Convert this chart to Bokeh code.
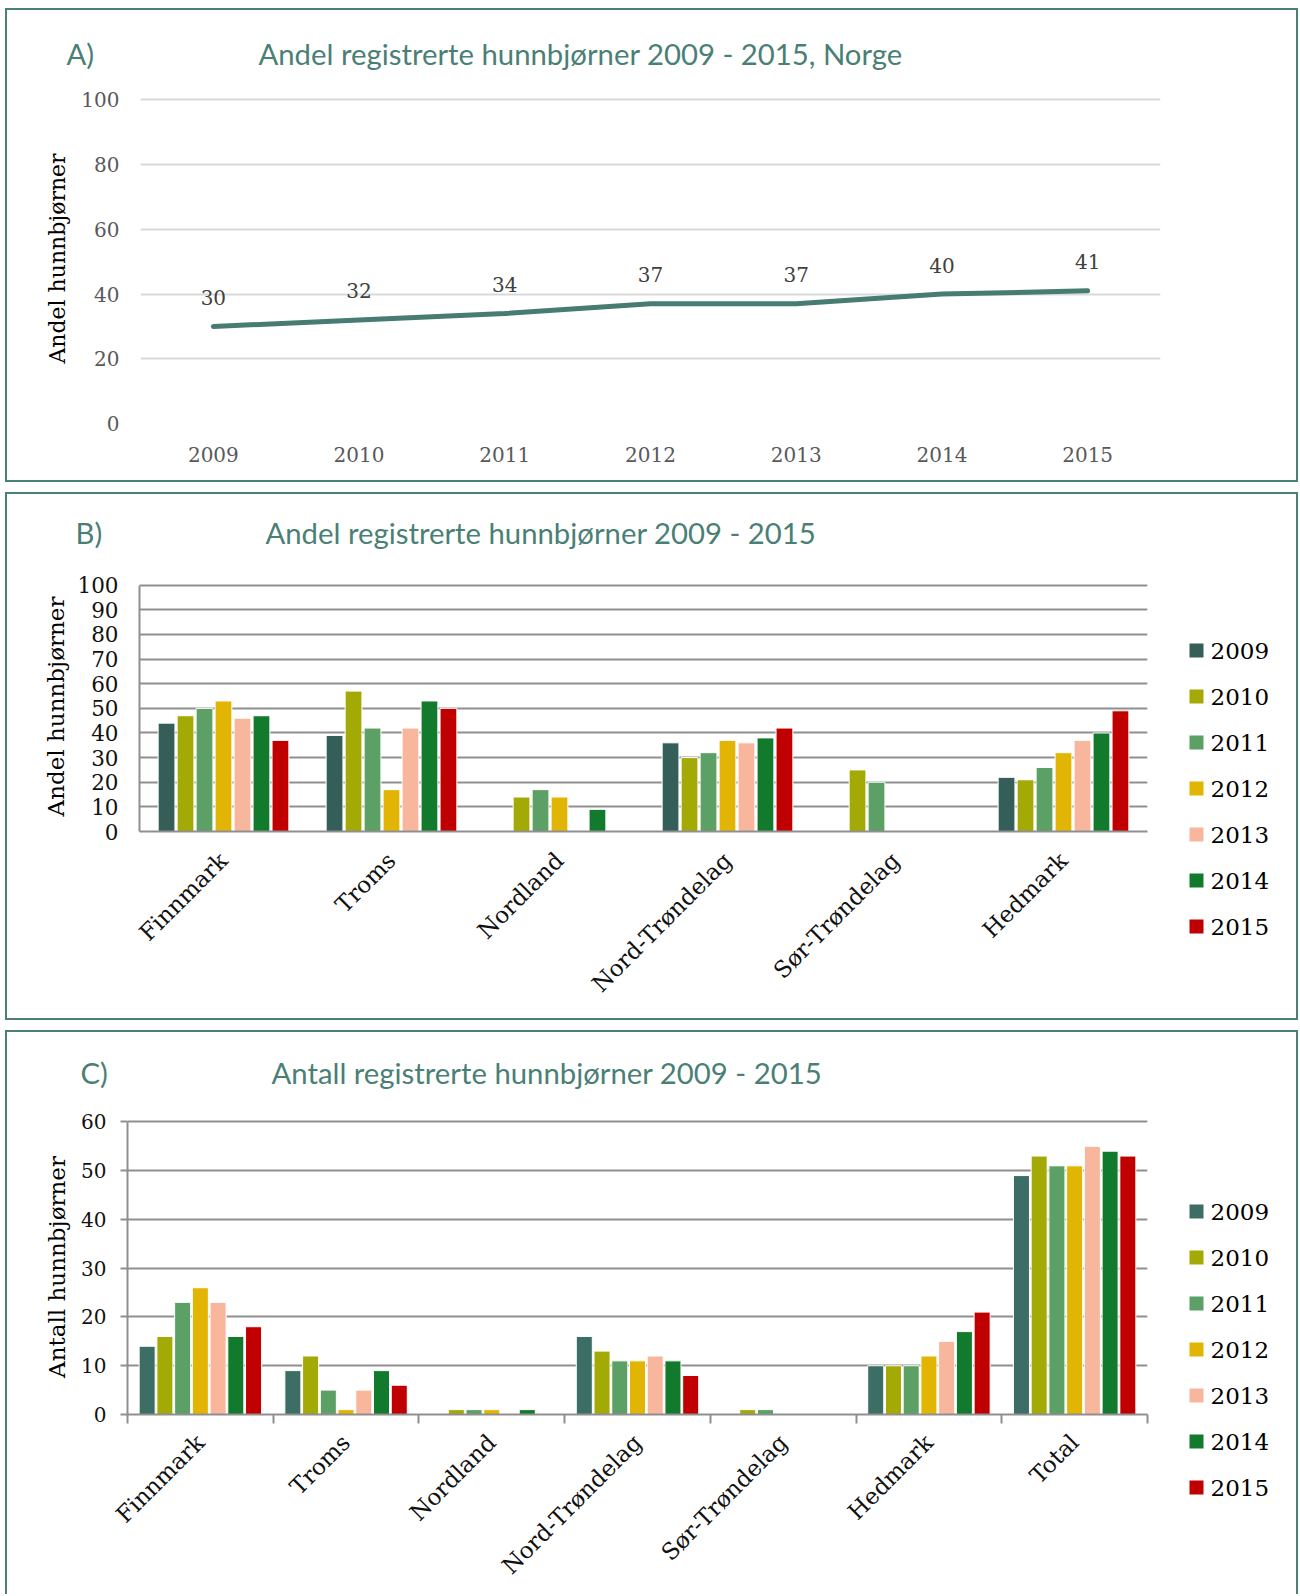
import math
import numpy as np
from bokeh.plotting import figure
from bokeh.models import Range1d, FactorRange, ColumnDataSource, LabelSet, FixedTicker
from bokeh.layouts import column, row
from bokeh.transform import dodge
from bokeh.embed import file_html
from bokeh.resources import INLINE
from bokeh.core.properties import value

# ---------------- data ----------------
years = ["2009", "2010", "2011", "2012", "2013", "2014", "2015"]
share_norway = [30, 32, 34, 37, 37, 40, 41]

regions_b = ["Finnmark", "Troms", "Nordland", "Nord-Trøndelag", "Sør-Trøndelag", "Hedmark"]
share_2009 = [44, 39, 0, 36, 0, 22]
share_2010 = [47, 57, 14, 30, 25, 21]
share_2011 = [50, 42, 17, 32, 20, 26]
share_2012 = [53, 17, 14, 37, 0, 32]
share_2013 = [46, 42, 0, 36, 0, 37]
share_2014 = [47, 53, 9, 38, 0, 40]
share_2015 = [37, 50, 0, 42, 0, 49]
shares = [share_2009, share_2010, share_2011, share_2012, share_2013, share_2014, share_2015]

regions_c = ["Finnmark", "Troms", "Nordland", "Nord-Trøndelag", "Sør-Trøndelag", "Hedmark", "Total"]
count_2009 = [14, 9, 0, 16, 0, 10, 49]
count_2010 = [16, 12, 1, 13, 1, 10, 53]
count_2011 = [23, 5, 1, 11, 1, 10, 51]
count_2012 = [26, 1, 1, 11, 0, 12, 51]
count_2013 = [23, 5, 0, 12, 0, 15, 55]
count_2014 = [16, 9, 1, 11, 0, 17, 54]
count_2015 = [18, 6, 0, 8, 0, 21, 53]
counts = [count_2009, count_2010, count_2011, count_2012, count_2013, count_2014, count_2015]

colors_b = ["#355E58", "#A3AA05", "#5DA065", "#E2B504", "#F8B79C", "#127A2C", "#C00000"]
colors_c = ["#3D6E66", "#A3AA05", "#5DA065", "#E2B504", "#F8B79C", "#127A2C", "#C00000"]

TEAL = "#4A7F76"
BORDER = "#4A8177"
GRID_DARK = "#8F8F8F"
SERIF = "DejaVu Serif"
SANS = "Lato"
IW = 1289          # inner panel width
MAIN_W = 1143      # width of bar-chart figures (rest is legend column)
LEG_W = IW - MAIN_W


def bare_fig(w, h):
    f = figure(width=w, height=h, x_range=Range1d(0, w), y_range=Range1d(h, 0),
               x_axis_type=None, y_axis_type=None, output_backend="svg",
               toolbar_location=None, min_border=0)
    f.outline_line_color = None
    return f


def title_fig(h, letter, text, x_letter, x_text, y):
    t = bare_fig(IW, h)
    src = ColumnDataSource(dict(x=[x_letter, x_text], y=[y, y], text=[letter, text]))
    t.text(x="x", y="y", text="text", source=src, text_font=value(SANS),
           text_font_size=value("29.3px"), text_color=TEAL, text_baseline="middle",
           text_align="left")
    return t


def legend_fig(h, colors, y_first, pitch):
    lf = bare_fig(LEG_W, h)
    ys = [y_first + k * pitch for k in range(len(years))]
    src = ColumnDataSource(dict(y=ys, label=years, color=colors))
    lf.scatter(x=46, y="y", marker="square", size=14, fill_color="color",
               line_color=None, source=src)
    lf.text(x=60, y="y", text="label", source=src, text_font=value(SERIF),
            text_font_size=value("23px"), text_color="#000000", text_baseline="middle",
            text_align="left")
    return lf


def style_yaxis_title(ax, text, size, standoff):
    ax.axis_label = text
    ax.axis_label_text_font = SERIF
    ax.axis_label_text_font_style = "normal"
    ax.axis_label_text_font_size = size
    ax.axis_label_text_color = "#000000"
    ax.axis_label_standoff = standoff


# ---------------- panel A ----------------
tA = title_fig(70, "A)", "Andel registrerte hunnbjørner 2009 - 2015, Norge", 59, 251, 43)
pA = figure(width=IW, height=400, x_range=FactorRange(*years, range_padding=0),
            y_range=Range1d(0, 102), output_backend="svg", toolbar_location=None,
            min_border_left=133, min_border_right=136, min_border_top=13, min_border_bottom=57)
pA.outline_line_color = None
pA.xgrid.grid_line_color = None
pA.ygrid.grid_line_color = "#D9D9D9"
pA.ygrid.grid_line_width = 2
pA.yaxis.ticker = FixedTicker(ticks=[0, 20, 40, 60, 80, 100])
for ax in (pA.xaxis[0], pA.yaxis[0]):
    ax.axis_line_color = None
    ax.major_tick_line_color = None
    ax.minor_tick_line_color = None
    ax.major_label_text_font = SERIF
    ax.major_label_text_font_size = "20px"
    ax.major_label_text_color = "#595959"
pA.yaxis.major_label_standoff = 15
pA.xaxis.major_label_standoff = 17
style_yaxis_title(pA.yaxis[0], "Andel hunnbjørner", "22px", 8)

srcA = ColumnDataSource(dict(year=years, val=share_norway, lbl=[str(v) for v in share_norway]))
pA.line("year", "val", source=srcA, line_color="#467C71", line_width=5, line_cap="round")
pA.add_layout(LabelSet(x="year", y="val", text="lbl", source=srcA, y_offset=29,
                       text_align="center", text_baseline="middle",
                       text_font=value(SERIF), text_font_size=value("20px"),
                       text_color=value("#404040")))
panelA = column(row(tA), row(pA), styles={"border": f"2px solid {BORDER}"})

# ---------------- panel B ----------------
tB = title_fig(66, "B)", "Andel registrerte hunnbjørner 2009 - 2015", 68, 258, 38)
pB = figure(width=MAIN_W, height=458, x_range=FactorRange(*regions_b, range_padding=0),
            y_range=Range1d(0, 101.5), output_backend="svg", toolbar_location=None,
            min_border_left=132, min_border_right=3, min_border_top=21, min_border_bottom=187)
pB.outline_line_color = None
pB.xgrid.grid_line_color = None
pB.ygrid.grid_line_color = GRID_DARK
pB.ygrid.grid_line_width = 2
pB.yaxis.ticker = FixedTicker(ticks=list(range(0, 101, 10)))
pB.yaxis.bounds = (0, 100)
for ax in (pB.xaxis[0], pB.yaxis[0]):
    ax.axis_line_color = GRID_DARK
    ax.axis_line_width = 2
    ax.major_tick_line_color = None
    ax.minor_tick_line_color = None
    ax.major_label_text_font = SERIF
    ax.major_label_text_font_size = "21.5px"
    ax.major_label_text_color = "#111111"
pB.xaxis.major_label_text_font_size = "23px"
pB.xaxis.major_label_orientation = math.pi / 4
pB.xaxis.major_label_standoff = 19
pB.yaxis.major_label_standoff = 15
style_yaxis_title(pB.yaxis[0], "Andel hunnbjørner", "23px", 5)

for i, vals in enumerate(shares):
    tops = np.array([v if v else np.nan for v in vals], dtype=float)
    src = ColumnDataSource(dict(region=regions_b, top=tops))
    pB.vbar(x=dodge("region", (i - 3) * 0.113, range=pB.x_range), top="top", bottom=0,
            width=0.1, source=src, fill_color=colors_b[i], line_color="white", line_width=1)
lB = legend_fig(458, colors_b, 90, 46)
panelB = column(row(tB), row(pB, column(lB)), styles={"border": f"2px solid {BORDER}"})

# ---------------- panel C ----------------
tC = title_fig(66, "C)", "Antall registrerte hunnbjørner 2009 - 2015", 73, 264, 40)
pC = figure(width=MAIN_W, height=496, x_range=Range1d(0, len(regions_c)),
            y_range=Range1d(0, 60.5), output_backend="svg", toolbar_location=None,
            min_border_left=120, min_border_right=3, min_border_top=21, min_border_bottom=180)
pC.outline_line_color = None
pC.xgrid.grid_line_color = None
pC.ygrid.grid_line_color = GRID_DARK
pC.ygrid.grid_line_width = 2
centers = [i + 0.5 for i in range(len(regions_c))]
pC.xaxis.ticker = FixedTicker(ticks=centers, minor_ticks=list(range(len(regions_c) + 1)))
pC.xaxis.major_label_overrides = {c: name for c, name in zip(centers, regions_c)}
pC.yaxis.ticker = FixedTicker(ticks=list(range(0, 61, 10)))
pC.yaxis.bounds = (0, 60)
for ax in (pC.xaxis[0], pC.yaxis[0]):
    ax.axis_line_color = GRID_DARK
    ax.axis_line_width = 2
    ax.major_label_text_font = SERIF
    ax.major_label_text_font_size = "20px"
    ax.major_label_text_color = "#111111"
pC.xaxis.major_tick_line_color = None
pC.xaxis.minor_tick_line_color = GRID_DARK
pC.xaxis.minor_tick_line_width = 2
pC.xaxis.minor_tick_out = 9
pC.xaxis.minor_tick_in = 0
pC.xaxis.major_label_text_font_size = "23px"
pC.xaxis.major_label_orientation = math.pi / 4
pC.xaxis.major_label_standoff = 15
pC.yaxis.minor_tick_line_color = None
pC.yaxis.major_tick_line_color = GRID_DARK
pC.yaxis.major_tick_line_width = 2
pC.yaxis.major_tick_out = 7
pC.yaxis.major_tick_in = 0
pC.yaxis.major_label_standoff = 14
style_yaxis_title(pC.yaxis[0], "Antall hunnbjørner", "23px", 8)

for i, vals in enumerate(counts):
    tops = np.array([v if v else np.nan for v in vals], dtype=float)
    src = ColumnDataSource(dict(xc=centers, top=tops))
    pC.vbar(x=dodge("xc", (i - 3) * 0.1217), top="top", bottom=0, width=0.11,
            source=src, fill_color=colors_c[i], line_color="white", line_width=1)
lC = legend_fig(496, colors_c, 113, 46)
panelC = column(row(tC), row(pC, column(lC)),
                styles={"border-top": f"2px solid {BORDER}",
                        "border-left": f"2px solid {BORDER}",
                        "border-right": f"2px solid {BORDER}"})

page = column(panelA, panelB, panelC, spacing=10, margin=(8, 0, 0, 5))
open("out.html", "w").write(file_html(page, INLINE))
